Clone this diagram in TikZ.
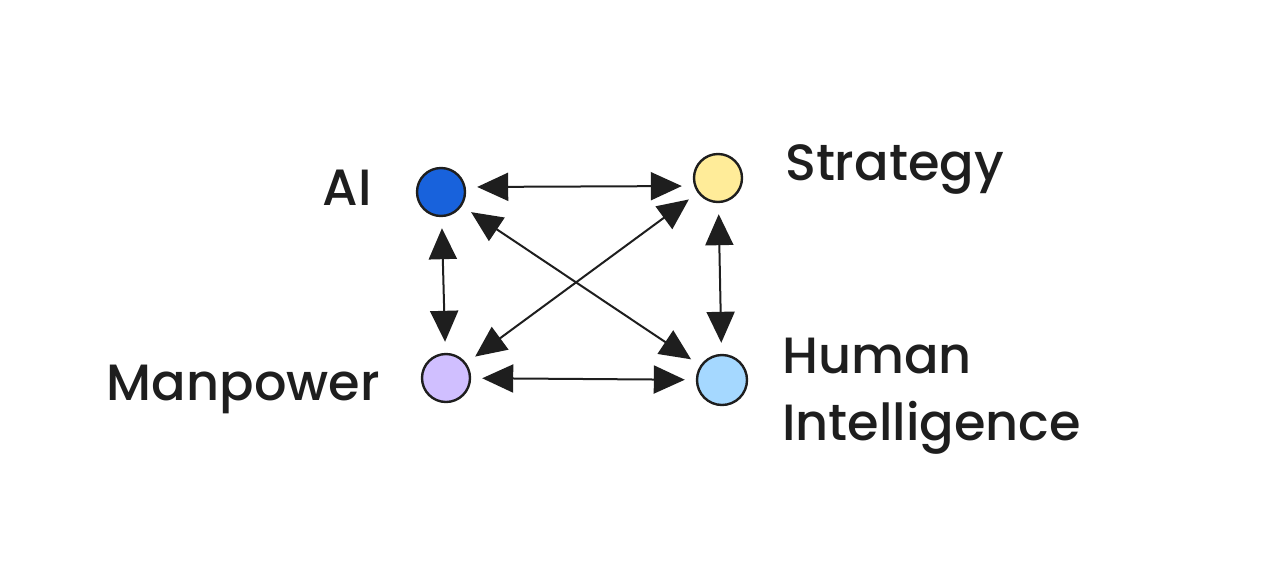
\documentclass[tikz,border=0pt]{standalone}
\usepackage{fontspec}
\setmainfont{Poppins}[UprightFont=* Medium]
\usetikzlibrary{arrows.meta}
\definecolor{ink}{HTML}{1E1E1E}
\definecolor{aiblue}{HTML}{1862DC}
\definecolor{styellow}{HTML}{FFEC99}
\definecolor{mpurple}{HTML}{D0BFFF}
\definecolor{hiblue}{HTML}{A5D8FF}
\tikzset{
  dot/.style={circle, draw=ink, line width=2.4pt, minimum size=48pt, inner sep=0pt},
  lbl/.style={text=ink, font=\fontsize{51}{60}\selectfont, inner sep=0pt},
  link/.style={ink, line width=2pt, {Triangle[length=31pt,width=28pt]}-{Triangle[length=31pt,width=28pt]}, shorten <=11pt, shorten >=11pt}
}
\begin{document}
\begin{tikzpicture}[x=1pt,y=-1pt]
\useasboundingbox (0,0) rectangle (1276,584);
\node[dot, fill=aiblue] (ai) at (441,192) {};
\node[dot, fill=styellow] (st) at (718,178) {};
\node[dot, fill=mpurple] (mp) at (446,378) {};
\node[dot, fill=hiblue, minimum size=50pt] (hi) at (722,380) {};
\node[lbl, anchor=base east] (lai) at (372,205) {AI};
\node[lbl, anchor=base west] (lst) at (785,180) {Strategy};
\node[lbl, anchor=base east] (lmp) at (380,400) {Manpower};
\node[lbl, anchor=base west] (lhu) at (782,373) {Human};
\node[lbl, anchor=base west] (lin) at (782,440) {Intelligence};
\draw[link] ([yshift=5pt]ai.east) -- ([yshift=-8pt]st.west);
\draw[link] (ai) -- (mp);
\draw[link] (st) -- (hi);
\draw[link] (mp) -- (hi);
\draw[link] (ai) -- (hi);
\draw[link] (st) -- (mp);
\end{tikzpicture}
\end{document}
